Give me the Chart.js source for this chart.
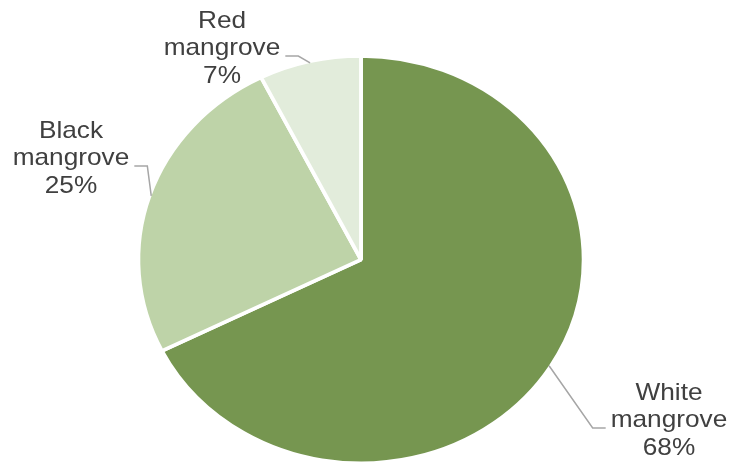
<!DOCTYPE html>
<html>
<head>
<meta charset="utf-8">
<script src="https://cdn.jsdelivr.net/npm/chart.js@4.4.0/dist/chart.umd.min.js"></script>
<style>
  html, body { margin: 0; padding: 0; background: #fff; }
  canvas { display: block; }
</style>
</head>
<body>
<canvas id="pie" width="746" height="465"></canvas>
<script>
const categories = ['White mangrove', 'Black mangrove', 'Red mangrove'];
const shares     = [67.6, 25.0, 7.4];
const colors     = ['#769650', '#BED3A8', '#E2ECDB'];

// where each label sits: text centre x, baseline of the middle line, side the leader leaves from
const labelSpots = [
  { x: 669, y: 427, side: 'left'  },
  { x: 71,  y: 165, side: 'right' },
  { x: 222, y: 55,  side: 'right' }
];

const STRETCH = 1.093;   // the original is drawn a little wider than tall
const LINE_H  = 27.5;

const stretchPlugin = {
  id: 'stretch',
  beforeDatasetsDraw(chart) {
    const arc = chart.getDatasetMeta(0).data[0];
    const ctx = chart.ctx;
    ctx.save();
    ctx.translate(arc.x, 0);
    ctx.scale(STRETCH, 1);
    ctx.translate(-arc.x, 0);
  },
  afterDatasetsDraw(chart) {
    chart.ctx.restore();
  }
};

const labelPlugin = {
  id: 'pieLabels',
  afterDraw(chart) {
    const ctx = chart.ctx;
    const arcs = chart.getDatasetMeta(0).data;
    ctx.save();
    ctx.font = '24px "Liberation Sans", Arial, sans-serif';
    arcs.forEach((arc, i) => {
      const { x, y, startAngle, endAngle, outerRadius } = arc.getProps(['x', 'y', 'startAngle', 'endAngle', 'outerRadius'], true);
      const mid = (startAngle + endAngle) / 2;
      const r   = outerRadius - 1.5;
      const ax  = x + Math.cos(mid) * r * STRETCH;
      const ay  = y + Math.sin(mid) * r;

      const spot  = labelSpots[i];
      const words = categories[i].split(' ');
      const lines = [words[0], words[1], Math.round(shares[i]) + '%'];
      const halfW = ctx.measureText(words[1]).width * STRETCH / 2;
      const dir   = spot.side === 'right' ? 1 : -1;
      const endX  = spot.x + dir * (halfW + 5);
      const elbX  = endX + dir * 13;

      // leader line
      ctx.strokeStyle = '#A6A6A6';
      ctx.lineWidth = 1.5;
      ctx.beginPath();
      ctx.moveTo(ax, ay);
      ctx.lineTo(elbX, spot.y + 1);
      ctx.lineTo(endX, spot.y + 1);
      ctx.stroke();

      // label text
      ctx.fillStyle = '#404040';
      ctx.textAlign = 'center';
      ctx.textBaseline = 'alphabetic';
      lines.forEach((t, k) => {
        ctx.save();
        ctx.translate(spot.x, spot.y + (k - 1) * LINE_H);
        ctx.scale(STRETCH, 1);
        ctx.fillText(t, 0, 0);
        ctx.restore();
      });
    });
    ctx.restore();
  }
};

new Chart(document.getElementById('pie'), {
  type: 'pie',
  data: {
    labels: categories,
    datasets: [{
      data: shares,
      backgroundColor: colors,
      borderColor: '#ffffff',
      borderWidth: 3.5
    }]
  },
  options: {
    responsive: false,
    animation: false,
    events: [],
    radius: 203.7,
    layout: { padding: { left: 100, right: 124, top: 57.6, bottom: 3.4 } },
    plugins: {
      legend: { display: false },
      tooltip: { enabled: false }
    }
  },
  plugins: [stretchPlugin, labelPlugin]
});
</script>
</body>
</html>
